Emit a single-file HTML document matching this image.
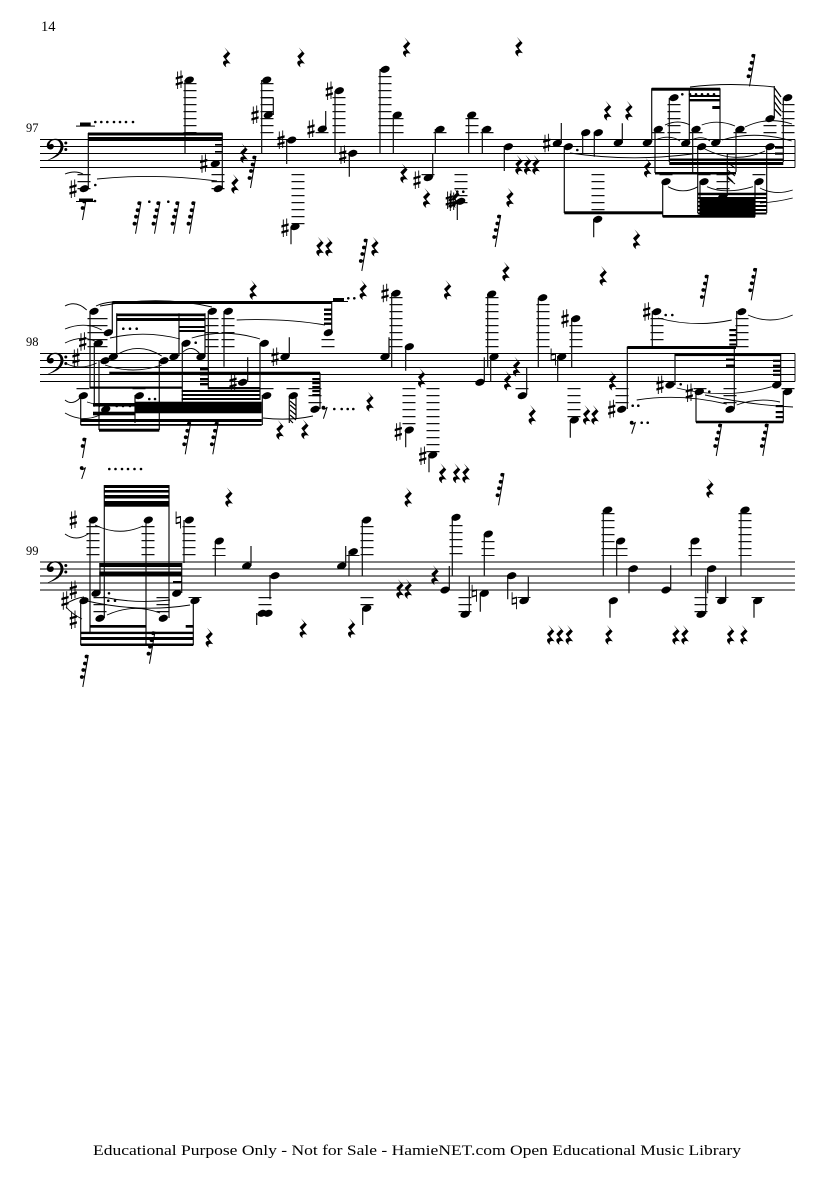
<!DOCTYPE html>
<html><head><meta charset="utf-8"><style>
html,body{margin:0;padding:0;background:#fff}
svg{display:block}
.m{fill:none;stroke:none}
.h{marker:url(#h)}.r{marker:url(#r)}.s{marker:url(#s)}.n{marker:url(#n)}.d{marker:url(#d)}.f{marker:url(#f)}.g{marker:url(#g)}.e{marker:url(#e)}
.st{fill:none;stroke:#000;stroke-width:.9}
.v{fill:none;stroke:#111;stroke-width:1.2}
.l{fill:none;stroke:#111;stroke-width:13;stroke-dasharray:1.3 5.7}
.t{fill:none;stroke:#000;stroke-width:.9}
text{font-family:"Liberation Serif",serif;fill:#000}
</style></head><body>
<svg width="835" height="1181" viewBox="0 0 835 1181" xmlns="http://www.w3.org/2000/svg">
<defs>
<marker id="h" markerUnits="userSpaceOnUse" markerWidth="1" markerHeight="1" overflow="visible"><ellipse rx="4.8" ry="3.3" transform="rotate(-20)"/></marker>
<marker id="r" markerUnits="userSpaceOnUse" markerWidth="1" markerHeight="1" overflow="visible"><path transform="scale(1.12 1.05)" d="M-2-9.5 3.2-3.5-.5 1 3.5 6.2C.5 5-2 6-.3 9.5-4 7-4.5 3-.5 3L-3.3-1 .8-5.2Z"/></marker>
<marker id="s" markerUnits="userSpaceOnUse" markerWidth="1" markerHeight="1" overflow="visible"><path d="M-1.7-8.5V9M1.7-9.5V8" stroke="#000" stroke-width=".9" fill="none"/><path d="M-3.6-2.8 3.6-4.8V-2.4L-3.6-.4ZM-3.6 3.2 3.6 1.2V3.6L-3.6 5.6Z"/></marker>
<marker id="n" markerUnits="userSpaceOnUse" markerWidth="1" markerHeight="1" overflow="visible"><path d="M-2.2-8.5V4M2.2-4V8.5" stroke="#000" stroke-width=".9" fill="none"/><path d="M-2.2-2.8 2.2-4V-2.4L-2.2-1.2ZM-2.2 2.6 2.2 1.4V3L-2.2 4.2Z"/></marker>
<marker id="d" markerUnits="userSpaceOnUse" markerWidth="1" markerHeight="1" overflow="visible"><circle r="1.3"/></marker>
<marker id="f" markerUnits="userSpaceOnUse" markerWidth="1" markerHeight="1" overflow="visible"><path d="M0 0-5.5 32" stroke="#000" stroke-width="1" fill="none"/><circle cx="-1.8" cy="1.5" r="1.9"/><circle cx="-3.4" cy="8.5" r="1.9"/><circle cx="-5" cy="15" r="1.9"/><circle cx="-6.5" cy="22" r="1.9"/><path d="M-1 3-.1 0M-2.6 10-1.2 6.8M-4.2 16.5-2.4 13.5M-5.7 23.5-3.7 20.5" stroke="#000" stroke-width=".8" fill="none"/></marker>
<marker id="g" markerUnits="userSpaceOnUse" markerWidth="1" markerHeight="1" overflow="visible"><path d="M0 0-3.5 20" stroke="#000" stroke-width="1" fill="none"/><circle cx="-1.8" cy="1.5" r="1.9"/><circle cx="-3.4" cy="8" r="1.9"/><path d="M-1 3-.1 0M-2.6 9.5-1.2 6.4" stroke="#000" stroke-width=".8" fill="none"/></marker>
<marker id="e" markerUnits="userSpaceOnUse" markerWidth="1" markerHeight="1" overflow="visible"><circle cx="-1.6" cy="-4" r="1.9"/><path d="M-1.6-2.4C0-2.4 1-3 2.2-4.6L-1.6 7" stroke="#000" stroke-width="1" fill="none"/></marker>
</defs>

<text x="41" y="31" font-size="14.5">14</text>
<text x="26" y="132" font-size="12.5">97</text>
<text x="26" y="346" font-size="12.5">98</text>
<text x="26" y="555" font-size="12.5">99</text>
<text x="93" y="1155" font-size="14.6" textLength="648" lengthAdjust="spacingAndGlyphs">Educational Purpose Only - Not for Sale - HamieNET.com Open Educational Music Library</text>

<!-- staves -->
<path class="st" d="M40 139.5H795M40 146.5H795M40 153.5H795M40 160.5H795M40 167.5H795M795 139.5V167.5
M40 353.5H795M40 360.5H795M40 367.5H795M40 374.5H795M40 381.5H795M795 353.5V381.5
M40 562H795M40 569H795M40 576H795M40 583H795M40 590H795"/>
<!-- clefs -->
<g><path d="M46.5 160.5C55 157 60.5 152 60.5 146.5C60.5 142 58 140 55 140C52 140 49.5 142 49.5 145C50.5 143.5 52.5 143.5 53.5 145C54.5 147 53 149.5 50.5 149.5C48 149.5 46.5 147.5 46.8 145C47.2 141.5 51 138.8 55.5 138.8C60.5 138.8 63.5 142 63.5 146.5C63.5 153 56 158.5 46.5 160.5Z"/><circle cx="65.8" cy="143" r="1.5"/><circle cx="65.8" cy="149.5" r="1.5"/></g>
<g transform="translate(0 214)"><path d="M46.5 160.5C55 157 60.5 152 60.5 146.5C60.5 142 58 140 55 140C52 140 49.5 142 49.5 145C50.5 143.5 52.5 143.5 53.5 145C54.5 147 53 149.5 50.5 149.5C48 149.5 46.5 147.5 46.8 145C47.2 141.5 51 138.8 55.5 138.8C60.5 138.8 63.5 142 63.5 146.5C63.5 153 56 158.5 46.5 160.5Z"/><circle cx="65.8" cy="143" r="1.5"/><circle cx="65.8" cy="149.5" r="1.5"/></g>
<g transform="translate(0 422.5)"><path d="M46.5 160.5C55 157 60.5 152 60.5 146.5C60.5 142 58 140 55 140C52 140 49.5 142 49.5 145C50.5 143.5 52.5 143.5 53.5 145C54.5 147 53 149.5 50.5 149.5C48 149.5 46.5 147.5 46.8 145C47.2 141.5 51 138.8 55.5 138.8C60.5 138.8 63.5 142 63.5 146.5C63.5 153 56 158.5 46.5 160.5Z"/><circle cx="65.8" cy="143" r="1.5"/><circle cx="65.8" cy="149.5" r="1.5"/></g>

<!-- ledger lines -->
<path class="l" d="M84 174V190M190 83V134M218 174V190M267 83V134M322 132V134M339 97V134M385 76V134M397 118V134M428 174V176M440 132V134M298 174V225M472 118V134M487 132V134M461 174V204M598 174V211M658 132V134M674 104V134M666 174V176M696 132V134M704 174V176M723 174V190M740 132V134M770 125V134M759 174V176M788 104V134
M94 318V348M83 388V390M101 318V348M139 388V390M212 318V348M228 318V348M267 388V390M293 388V390M315 388V404M328 339V348M396 297V348M409 388V425M433 388V453M492 297V348M522 388V390M543 304V348M576 325V348M574 388V418M622 388V404M657 318V341M742 318V348M730 388V404M700 388V390M788 388V390
M93 526V556M148 526V556M189 526V556M219 548V556M100 597V613M163 597V613M265 597V606M353 555V556M367 526V556M367 597V606M195 597V598
M456 525V556M465 597V613M488 541V556M524 597V598M608 513V556M621 548V556M695 548V556M701 597V613M722 597V598M745 513V556M758 597V598"/>

<!-- stems -->
<path class="v" d="M88.3 188V133M185 80V153.5M222.3 188V133M261.7 80V153.5M273.3 115V97.7M286.7 140V164M291 227V244.3M325.7 129V111M335 91V153.5M349.3 153V176.7M380 69V153.5M393.3 115V153.5M432.7 177V153.5M435.3 129V153.5M468.7 115V153.5M482.3 129V153.5M504.3 146V171M457.3 201V220
M561.3 143V123M564.3 146V213M582.7 132V153.5M594.3 132V156.7M593.7 219V237.3M622.3 143V123.3M651.7 142V88.3M655 129V173M669.3 98V162M662.7 181V216.7M689.3 143V88.3M692.7 129V172M697.7 146V213M700 181V216.7M720 142V88.3M727.3 153.3V196M736 129V172M766.7 146V213M774.3 118V86M755 181V216.7M783.3 97.7V162
M90 311V388.3M80.7 395V425M112.3 332V301.7M94.3 343V406.7M99 360V430M116.7 356V313.3M135 395V423M159.3 360V430M179 356V313.3M182.3 343V401.7M205 356V313.3M208.3 311V389.3M224 311V366.7M247.7 382V357.3M260 343V400M289.3 356V337.3M262.3 395V425M289.3 396V423M320 409V372.7M331.7 332V301.7M391.7 293V367.3M389 356V337.3M405.7 346V370.7M405.7 430V447.3
M429 455V472.3M484.3 382V357.3M487.7 294V367.3M490.7 356V381M526.7 395V367.3M538.3 298V367.3M557.7 356V381M571.7 318V367.3M570.3 420V437.7M627.3 409V346.7M652.3 311V346.7M675 385V354M696 391V422.3M736.7 311V346.7M734.3 409V346.7M780.7 385V354M783.3 391V422.3
M90 520V633M146 520V645M184 520V563M215.3 541V576M251 566V546M256.7 613V625M270 575V599.3M345.7 566V546M349 551V576M362.3 520V576M362.7 608V625M193.3 600V645M181.7 593V563M100 593V563M80.7 600V645M104.3 618V485M169 618V485
M449.3 590V566M452.3 517V576M469.3 614V576M480.3 593V611.7M484.3 534V576M507.7 575V599.3M528.3 600V576.7M603.3 510V576M616.7 541V576M629 568V593.3M610 600V617.7M670.7 590V565.3M691.3 541V576M705.7 614V576M707.7 568V593.3M725.7 600V576.7M741 510V576M754 600V617.7"/>

<!-- beams -->
<g>
<rect x="88" y="132.5" width="134.5" height="3"/><rect x="88" y="137" width="134.5" height="4"/>
<rect x="215" y="144" width="7.5" height="1.6"/><rect x="215" y="151" width="7.5" height="1.6"/>
<rect x="261.7" y="97.2" width="11.6" height="1.2"/>
<rect x="80" y="122.5" width="10.7" height="3.5"/><rect x="76" y="125.6" width="19" height="1"/>
<rect x="79" y="198.5" width="14" height="3"/><rect x="76" y="201" width="20" height="1"/>
<rect x="564.3" y="211.3" width="98.7" height="3"/>
<rect x="651.7" y="87.7" width="68.3" height="3"/>
<rect x="689.3" y="95" width="30.7" height="2"/><rect x="689.3" y="99" width="30.7" height="2.4"/><rect x="712.3" y="106" width="7.7" height="3"/>
<rect x="655" y="172" width="81" height="2.5"/>
<rect x="669.3" y="158.5" width="114" height="2"/><rect x="669.3" y="162" width="114" height="3"/>
<rect x="662.7" y="215" width="92.3" height="2.7"/>
<rect x="697.7" y="192.7" width="69" height="2.5"/><rect x="697.7" y="197" width="69" height="2"/><rect x="700" y="199" width="55" height="18"/><rect x="697.7" y="201" width="69" height="1.6"/><rect x="697.7" y="205" width="69" height="2"/><rect x="697.7" y="209" width="69" height="2"/><rect x="697.7" y="212.5" width="69" height="2"/>
<rect x="775" y="146.5" width="8.3" height="2.2"/><rect x="775" y="152.5" width="8.3" height="2.2"/>
<path d="M727.3 154H735M727 162 735 168M727.3 170 735 176M727.3 178 735 184M727 176 733 182" stroke="#000" stroke-width="1.1" fill="none"/>
<path d="M774.5 88 781 97M774.5 95 781 104M774.5 102 781 111M774.5 109 781 116" stroke="#000" stroke-width="1.3" fill="none"/>

<rect x="112.3" y="301" width="219.4" height="3"/>
<rect x="116.7" y="313.5" width="88.3" height="2.7"/><rect x="116.7" y="318" width="88.3" height="3"/>
<rect x="179" y="326" width="26" height="2"/><rect x="179" y="330" width="26" height="2"/>
<rect x="200" y="368" width="8.3" height="2.4"/><rect x="200" y="373" width="8.3" height="2.4"/><rect x="200" y="378" width="8.3" height="2.4"/><rect x="200" y="383" width="8.3" height="2.4"/>
<rect x="109.3" y="371.7" width="210.7" height="2.6"/>
<rect x="312.3" y="378" width="7.7" height="2.2"/><rect x="312.3" y="382" width="7.7" height="2.2"/><rect x="312.3" y="386" width="7.7" height="2.2"/><rect x="312.3" y="390" width="7.7" height="2.2"/><rect x="312.3" y="394" width="7.7" height="2.2"/>
<rect x="324" y="308.5" width="7.7" height="2.4"/><rect x="324" y="313" width="7.7" height="2.4"/><rect x="324" y="318" width="7.7" height="2.4"/><rect x="324" y="322.5" width="7.7" height="2.4"/>
<rect x="333" y="298" width="11" height="3.2"/><rect x="330" y="301" width="18" height="1"/>
<rect x="135" y="401.7" width="126.7" height="11.6"/>
<rect x="181.7" y="390" width="78" height="2"/><rect x="181.7" y="394" width="78" height="2"/><rect x="181.7" y="398" width="78" height="2"/>
<rect x="93" y="403" width="42" height="3.5"/><rect x="93" y="411.7" width="42" height="3.6"/>
<rect x="80.7" y="419" width="181" height="3"/><rect x="80.7" y="424" width="181" height="1.8"/>
<rect x="99" y="428.7" width="60.3" height="3"/>
<rect x="208" y="387" width="52" height="2.3"/><rect x="90" y="386.5" width="92" height="2.3"/>
<path d="M290 401 296 406M290 405 296 410M290 410 296 415M290 415 296 420M290 420 293 423M296 398V418" stroke="#000" stroke-width="1.2" fill="none"/>
<rect x="627.3" y="346" width="108.7" height="3"/>
<rect x="675" y="353.7" width="105.7" height="2.4"/>
<rect x="696" y="420.7" width="87.3" height="2.6"/>
<rect x="729.3" y="329" width="7" height="2.2"/><rect x="729.3" y="334" width="7" height="2.2"/><rect x="729.3" y="339" width="7" height="2.2"/><rect x="729.3" y="343.5" width="7" height="2"/>
<rect x="726" y="358.5" width="9" height="2.4"/><rect x="726" y="364.5" width="9" height="2.4"/>
<rect x="773" y="359.7" width="7.7" height="2.2"/><rect x="773" y="364.7" width="7.7" height="2.2"/><rect x="773" y="369.7" width="7.7" height="2.2"/><rect x="773" y="373.7" width="7.7" height="2.2"/>
<rect x="775.7" y="405" width="7.6" height="2.2"/><rect x="775.7" y="411" width="7.6" height="2.2"/><rect x="775.7" y="416" width="7.6" height="2.2"/>

<rect x="104.3" y="485" width="64.7" height="3"/><rect x="104.3" y="490" width="64.7" height="2.6"/><rect x="104.3" y="495" width="64.7" height="3.5"/><rect x="104.3" y="501" width="64.7" height="5.7"/>
<rect x="99.3" y="563" width="82.4" height="4"/><rect x="99.3" y="571.5" width="82.4" height="4"/>
<rect x="173" y="581" width="8.7" height="2"/>
<rect x="90" y="625" width="56" height="2.7"/><rect x="185.7" y="625" width="7.6" height="2.7"/>
<rect x="80.7" y="631.7" width="112.6" height="2.4"/><rect x="80.7" y="637" width="112.6" height="3"/><rect x="80.7" y="643.5" width="112.6" height="2.5"/>
</g>

<!-- ties -->
<path class="t" d="M65 174Q75 170 83 174M97 179Q155 173 217 181M665 125Q678 119 690 125M701.7 125Q718 119 735 126M745 127Q768 116 792 124M655 140Q670 134 680 141M692 140Q702 135 710 141M722 140Q755 130 791.7 141M668 186.7Q683 195 698 186.7M707 186.7Q725 195 753 186.7M760 188Q775 196 792.7 190M703 148Q735 165 765 151M760 203Q777 202 792.7 198M690 87Q730 82 774 87M570 153Q630 162 692 154
M65 306Q76 300 86.7 310M96 306Q102 303 112 302M65 329Q85 321 101.7 330M65 343Q85 333 101.7 345M110 338Q145 330 180 339M191.7 338Q225 328 260 339M100 306Q160 295 212 307M236.7 320Q285 318 325 325M118 354Q140 342 161.7 356M105 365Q133 375 161.7 365M65 363Q80 371 96.7 363M183 352Q192 344 200 354M65 400Q72 406 80 398M65 413Q82 423 100 415M87 402Q95 404 100 407M263 418Q290 421 313 416
M658 318Q695 328 731.7 320M748 315Q770 325 792.7 315M636.7 400Q680 393 726.7 404M676.7 388Q725 400 771.7 386.7M705 395Q750 405 793 407M736.7 405Q758 397 780 402
M65 534Q76 542 88 534M95 525Q119 537 143 526M103 597Q135 604 170 600M66 604Q75 598 84 597M87 601Q140 613 190 605M107 615Q133 603 160 613M66 607Q72 614 82 619"/>

<!-- noteheads -->
<path class="m h" d="M84.3 188.7 189.3 80 215.3 163.7 218.3 188.7 266.7 80 268.3 115 291.7 140 295 226.7 322.3 129 339.3 90.7 352.7 153.3 385 69.3 397.3 115 428.3 177.7 440 129.3 471.7 115 486.7 129.3 508.3 146.7 460.7 201.3 557.3 143.3 568.3 146.7 585.7 132.7 598.3 132.7 597.7 219.3 618.3 142.7 647.3 142.7 658.3 129.3 674 97.7 666 181.7 685.7 143.3 696 129.3 701.7 146.7 704 181.7 715.7 142.7 722.7 196.7 740 129.3 770 146.7 770 118.7 759 181.7 787.7 97.7"/>
<path class="m h" d="M94 311.3 83.3 395.7 108.3 332.7 98.3 343.3 105 360.7 113.3 356.7 105.7 409.3 139.3 395.7 164 360.7 174 356.7 186 343.3 201 356.7 212.3 311.3 228.3 311.3 242.7 382.3 264.3 343.3 285 356.7 266.7 395.7 293.3 395.7 315 409.3 328.3 332.7 396 293.3 385 356.7 409.3 346.7 409.3 430 432.7 455 480 382.3 491.7 294 494 356.7 522.3 395.7 542.7 297.7 561.7 356.7 575.7 318.7 574.3 420 621.7 409.3 656.7 311.7 670 385 699.3 391.7 741.7 311.7 730 409.3 776.7 385 787.7 391.7"/>
<path class="m h" d="M93.3 520 148.3 520 189.3 520 219.3 541 246.7 566 262 613.3 268 613.3 275 575.7 341.7 566 353.3 551.7 366.7 520 366.7 608.3 195 600.7 176.7 593.3 96 593.3 84 600.7 100 618.3 163.3 618.3 445 590 456 517.3 465 614.3 484.3 593.3 488.3 534 511.7 575.7 524 600.7 607.7 510 620.7 541 633.3 568.7 613.3 600.7 666 590 695 541 701 614.3 711.7 568.7 721.7 600.7 745 510 757.7 600.7"/>

<!-- accidentals -->
<path class="m s" d="M73 189 179.3 80 203.7 163.7 255 115 281 140 285 228 311 129 329.3 91 342.7 155 417 180 449.3 200 452 202 546.7 143.3 82.7 341.7 76 358 233 382.3 275 357 385 293.3 398.3 431.7 422.7 456 565 318.7 611.7 409.3 646.7 311.7 660 385 689.3 393 73.3 520 65 600.7 73.3 590 73.3 620"/>
<path class="m n" d="M553.3 357 178.3 520 474.3 593.3 514.3 600.7"/>

<!-- quarter rests -->
<path class="m r" d="M226.7 57.3 301 57.3 406.7 47.3 244 153.3 235 184 404 173.3 320 246.7 329 246.7 375 246.7 426.7 198 519 46.7 519 165 527.7 165 536 165 510 197.7 607.7 110.7 629 110.7 647.7 167.7 636.7 239.3 456 198
253.3 290 363.3 290 370 401.7 280 430 305 429.3 421.7 378 447.7 290 506 271.7 603.3 276 442.7 473.3 456.7 473.3 466 473.3 516.7 366.7 507.7 380.7 532.3 415 612.7 380.7 586.7 415 595 415
229 497.3 408.3 497.3 209.3 637.7 303.3 628.3 351.7 628.3 400 589 408.3 589 435 575 710 488.3 550.7 635 560 635 569.3 635 609 635 676 635 685 635 730.7 635 744 635"/>

<!-- flagged rests -->
<path class="m f" d="M141 201.7 160 201.7 179 201.7 195 201.7 256 156 367.3 239 500.7 215 755 54.3 190.7 422.3 218.3 422.3 708.3 275 756.7 268.3 721.7 424 768.3 424 88.3 655 155 631.7 504 473.3"/>
<path class="m g" d="M86 200 86 438"/>
<path class="m e" d="M325 411.7 83.3 472 633.3 426.7"/>

<!-- dots -->
<path class="m d" d="M95.3 185 95.3 122 101.3 122 107.3 122 114 122 120 122 126 122 133 122 149.3 201.7 168.3 201.7 95 201 457.3 191.7 463.3 191.7 577.3 150 682.3 94.3 690 94.3 696 94.3 702 94.3 708 94.3 714 94.3
149.3 399 155 399 195.7 342.7 123.3 328.7 130 328.7 136.7 328.7 116.7 406 123 406 130 406 348.3 298.3 354.3 298.3 334.3 409 341.7 409 347.7 409 353.3 409 109.3 469 115.5 469 122 469 128 469 134.5 469 141 469 632.7 405.7 638.3 405.7 665.7 315 672.3 315 641.7 422.7 647.7 422.7 680.7 384.3 709.3 391.7
109 593.3 108.3 600.7 115 600.7"/>
</svg>
</body></html>
